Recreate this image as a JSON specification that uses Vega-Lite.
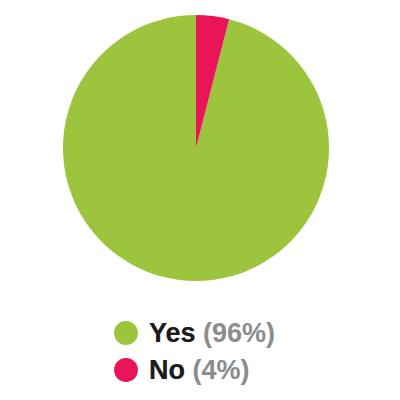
{
  "$schema": "https://vega.github.io/schema/vega-lite/v6.json",
  "padding": 0,
  "spacing": 0,
  "background": "white",
  "config": {"view": {"stroke": null}, "concat": {"spacing": 0}},
  "data": {"values": [
    {"answer": "Yes", "pct": 96, "full": "Yes (96%)"},
    {"answer": "No", "pct": 4, "full": "No (4%)"}
  ]},
  "vconcat": [
    {
      "width": 392,
      "height": 296,
      "mark": {"type": "arc", "outerRadius": 133},
      "encoding": {
        "theta": {"field": "pct", "type": "quantitative", "stack": true},
        "order": {"field": "answer", "sort": "ascending"},
        "color": {"field": "answer", "type": "nominal", "scale": {"domain": ["Yes", "No"], "range": ["#9cc43c", "#ea1558"]}, "legend": null}
      }
    },
    {
      "width": 392,
      "height": 104,
      "encoding": {
        "y": {"field": "answer", "type": "nominal", "sort": ["Yes", "No"], "scale": {"type": "point", "padding": 0, "range": [37, 74]}, "axis": null}
      },
      "layer": [
        {
          "mark": {"type": "point", "filled": true, "shape": "circle", "size": 570, "opacity": 1},
          "encoding": {
            "x": {"value": 126},
            "color": {"field": "answer", "type": "nominal", "scale": {"domain": ["Yes", "No"], "range": ["#9cc43c", "#ea1558"]}, "legend": null}
          }
        },
        {
          "mark": {"type": "text", "align": "left", "baseline": "middle", "font": "Liberation Sans", "fontWeight": "bold", "fontSize": 27, "color": "#8c8c8c", "dy": 1},
          "encoding": {"x": {"value": 149}, "text": {"field": "full"}}
        },
        {
          "mark": {"type": "text", "align": "left", "baseline": "middle", "font": "Liberation Sans", "fontWeight": "bold", "fontSize": 27, "color": "#1c1c1c", "dy": 1},
          "encoding": {"x": {"value": 149}, "text": {"field": "answer"}}
        }
      ]
    }
  ]
}
